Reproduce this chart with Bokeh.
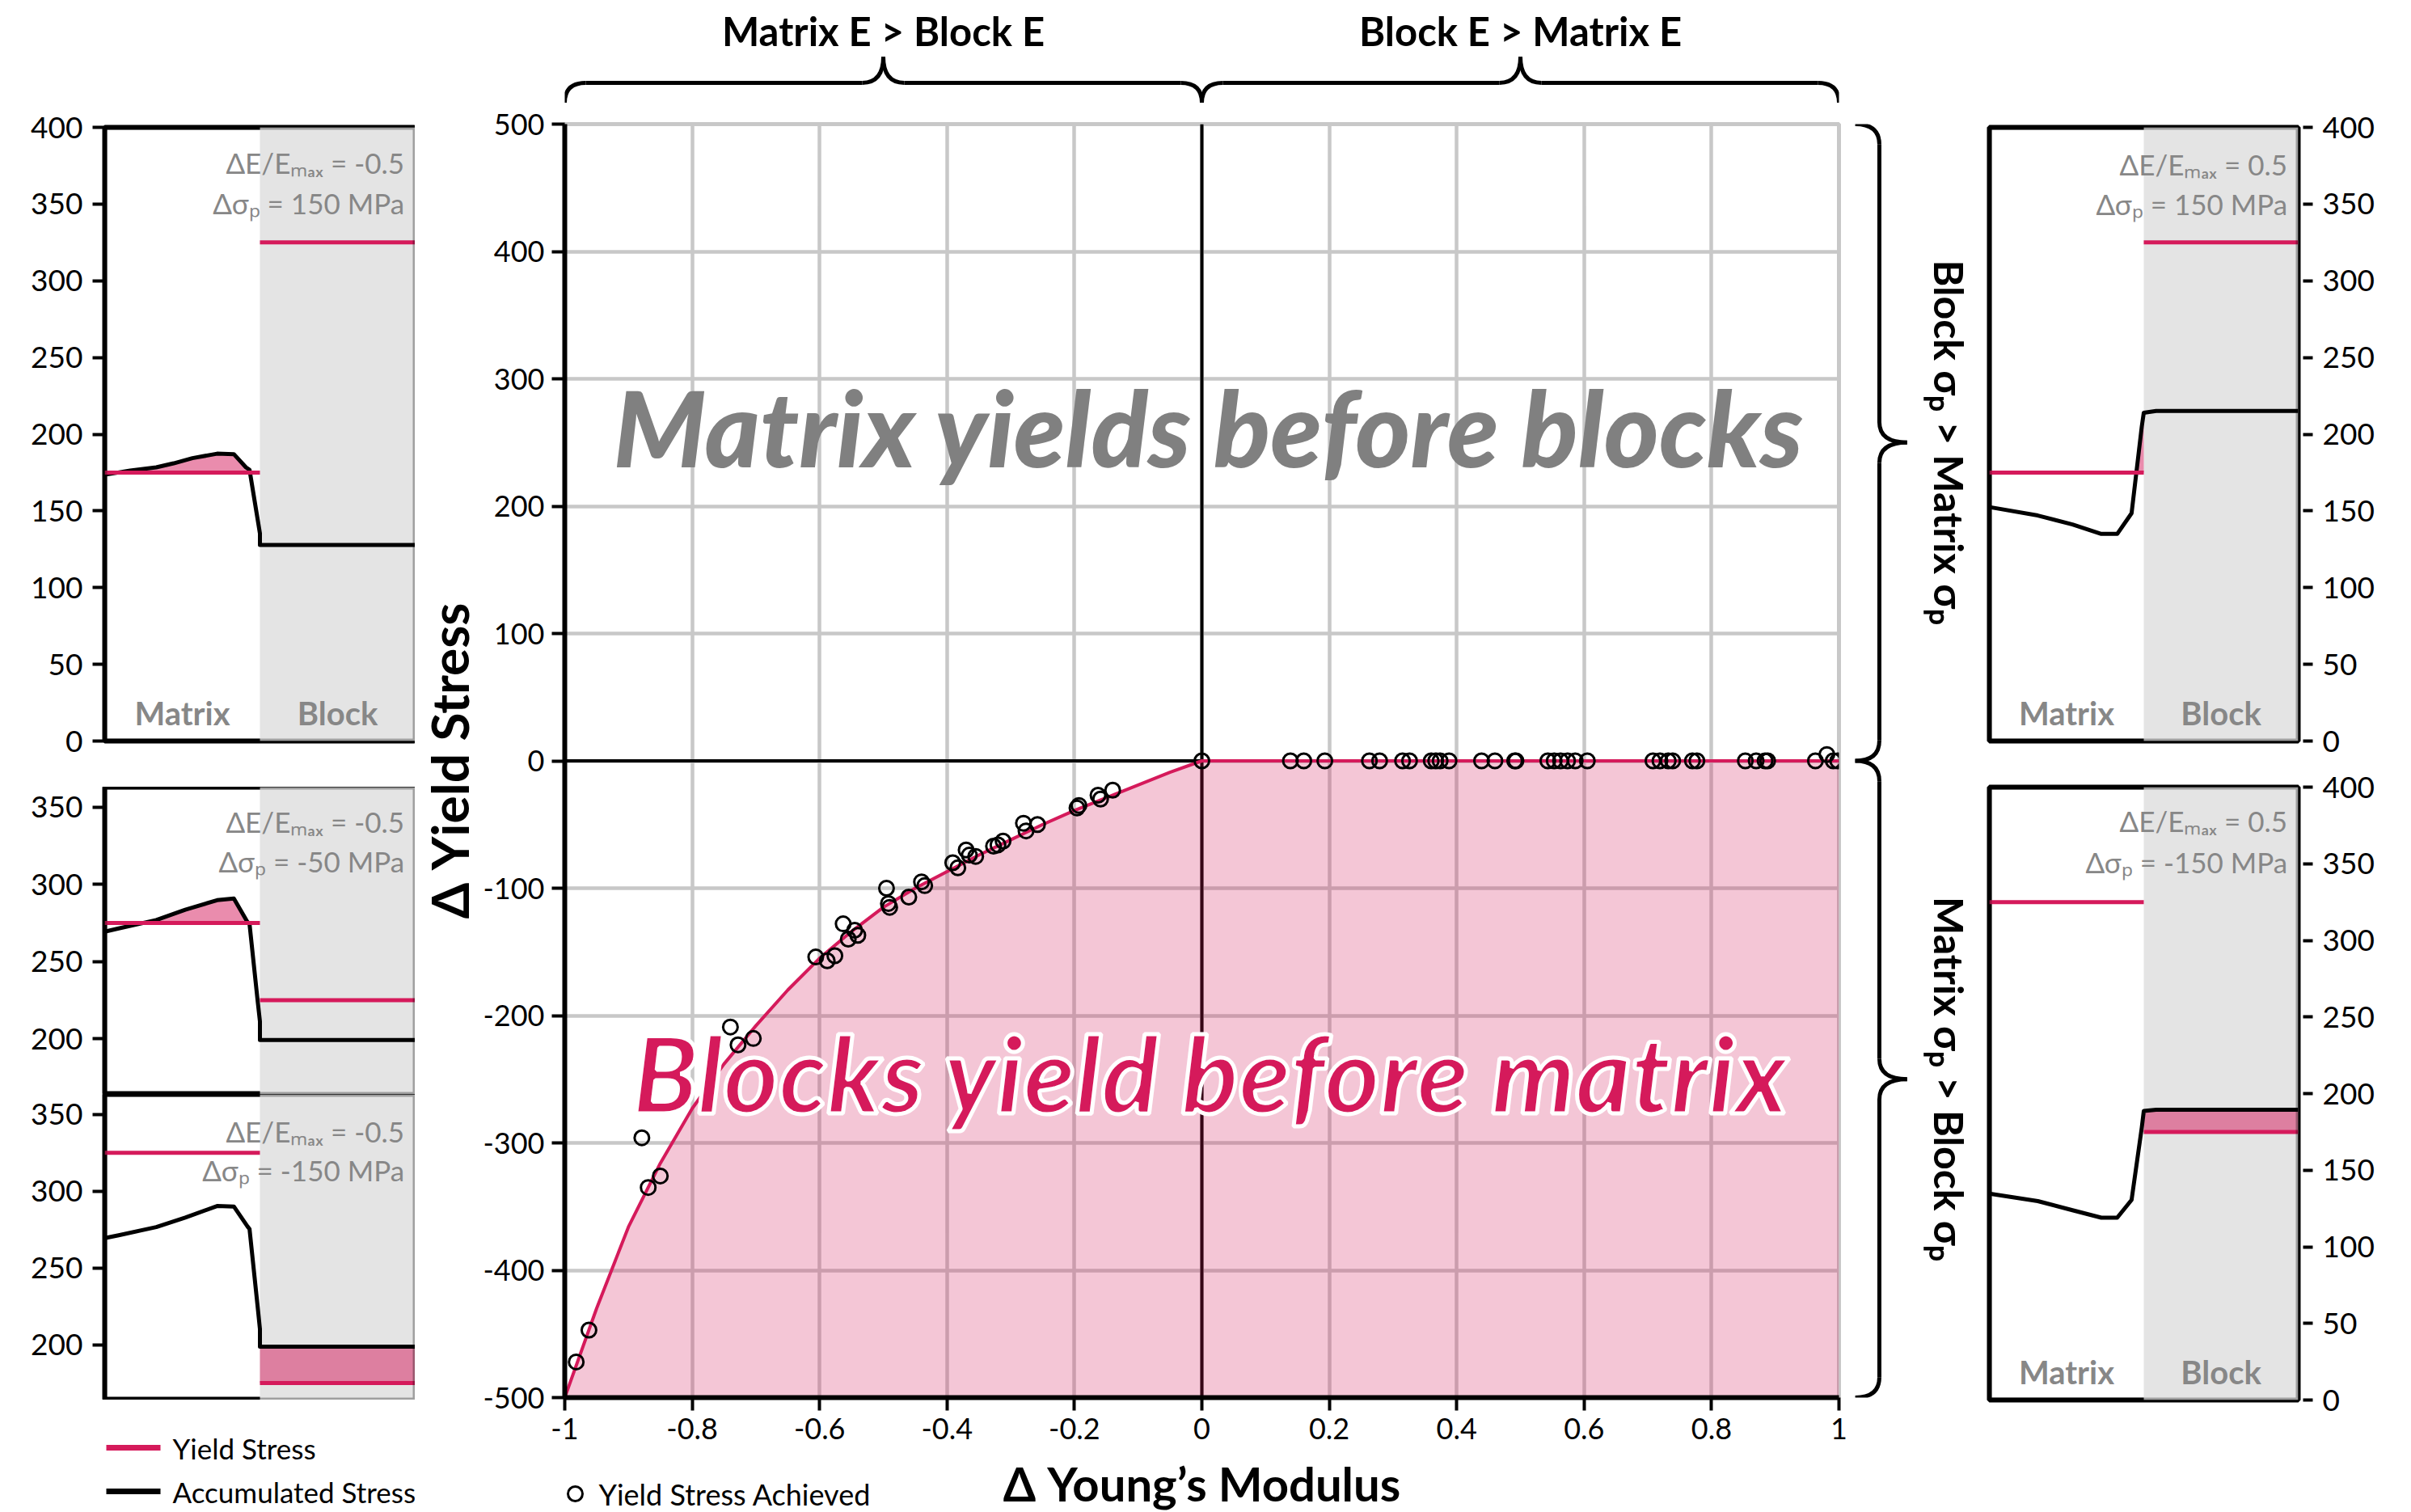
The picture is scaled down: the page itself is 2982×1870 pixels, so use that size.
import numpy as np
from bokeh.plotting import figure
from bokeh.layouts import row, column
from bokeh.models import Range1d, FixedTicker, BoxAnnotation, Span
from bokeh.core.properties import value
from bokeh.embed import file_html
from bokeh.resources import INLINE

# ---------------- data: main panel ----------------
boundary_x = [-1.0, -0.95, -0.9, -0.85, -0.8, -0.75, -0.7, -0.65, -0.6, -0.55, -0.5,
              -0.45, -0.4, -0.35, -0.3, -0.25, -0.2, -0.15, -0.1, -0.05, 0.0, 1.0]
boundary_y = [-500, -430, -366, -316, -273, -238, -208, -180, -155, -134, -115,
              -100, -87, -74, -62, -50, -39, -29, -19, -9, 0, 0]

achieved_neg_x = [-0.982, -0.962, -0.879, -0.869, -0.850, -0.740, -0.728, -0.704, -0.606, -0.588,
                  -0.576, -0.563, -0.555, -0.545, -0.540, -0.495, -0.492, -0.490, -0.460, -0.440,
                  -0.435, -0.391, -0.383, -0.370, -0.365, -0.355, -0.327, -0.320, -0.312, -0.280,
                  -0.276, -0.258, -0.196, -0.193, -0.163, -0.159, -0.140, 0.0]
achieved_neg_y = [-472, -447, -296, -335, -326, -209, -223, -218, -154, -157,
                  -153, -128, -140, -133, -137, -100, -112, -115, -107, -95,
                  -98, -80, -84, -70, -74, -75, -67, -66, -63, -49,
                  -55, -50, -37, -35, -27, -30, -23, 0]
achieved_pos_x = [0.139, 0.160, 0.193, 0.263, 0.279, 0.315, 0.326, 0.360, 0.367, 0.374,
                  0.388, 0.439, 0.460, 0.491, 0.493, 0.543, 0.553, 0.563, 0.574, 0.586,
                  0.605, 0.708, 0.719, 0.732, 0.739, 0.770, 0.777, 0.853, 0.870, 0.884,
                  0.888, 0.963, 0.981, 0.991, 0.998]
achieved_pos_y = [0, 0, 0, 0, 0, 0, 0, 0, 0, 0,
                  0, 0, 0, 0, 0, 0, 0, 0, 0, 0,
                  0, 0, 0, 0, 0, 0, 0, 0, 0, 0,
                  0, 0, 5, 0, 0]

x_ticks = [-1, -0.8, -0.6, -0.4, -0.2, 0, 0.2, 0.4, 0.6, 0.8, 1]
x_tick_labels = ["-1", "-0.8", "-0.6", "-0.4", "-0.2", "0", "0.2", "0.4", "0.6", "0.8", "1"]
y_ticks = [-500, -400, -300, -200, -100, 0, 100, 200, 300, 400, 500]
y_tick_labels = ["-500", "-400", "-300", "-200", "-100", "0", "100", "200", "300", "400", "500"]

x_title = "Δ Young’s Modulus"
y_title = "Δ Yield Stress"
upper_region = "Matrix yields before blocks"
lower_region = "Blocks yield before matrix"
top_labels = ["Matrix E > Block E", "Block E > Matrix E"]
side_labels = ["Block σₚ > Matrix σₚ", "Matrix σₚ > Block σₚ"]

# ---------------- data: small panels ----------------
region_names = ["Matrix", "Block"]
tl_acc_x = [0.0, 0.164, 0.332, 0.444, 0.565, 0.724, 0.832, 0.910, 0.933, 1.0, 1.0, 2.0]
tl_acc_y = [173.6, 176.3, 178.4, 181.0, 184.4, 187.3, 187.0, 178.4, 176.8, 135.3, 127.8, 127.8]
tl_yield = [175, 325]
tl_text = ["ΔE/Eₘₐₓ = -0.5", "Δσₚ = 150 MPa"]

ml_acc_x = [0.0, 0.09, 0.332, 0.519, 0.724, 0.832, 0.92, 0.933, 0.985, 1.0, 1.0, 2.0]
ml_acc_y = [269.4, 271.5, 276.9, 283.6, 289.8, 290.9, 275.6, 274.3, 224.7, 211.3, 199.2, 199.2]
ml_yield = [275, 225]
ml_text = ["ΔE/Eₘₐₓ = -0.5", "Δσₚ = -50 MPa"]

bl_acc_x = [0.0, 0.09, 0.332, 0.519, 0.724, 0.832, 0.92, 0.933, 0.985, 1.0, 1.0, 2.0]
bl_acc_y = [269.4, 271.3, 276.6, 282.8, 290.3, 290.0, 277.0, 275.3, 225.0, 210.2, 198.7, 198.7]
bl_yield = [325, 175]
bl_text = ["ΔE/Eₘₐₓ = -0.5", "Δσₚ = -150 MPa"]

tr_acc_x = [0.0, 0.314, 0.538, 0.725, 0.828, 0.921, 0.987, 1.0, 1.08, 2.0]
tr_acc_y = [152.5, 147.0, 141.2, 135.0, 135.0, 148.5, 205.0, 214.0, 215.2, 215.2]
tr_yield = [175, 325]
tr_text = ["ΔE/Eₘₐₓ = 0.5", "Δσₚ = 150 MPa"]

br_acc_x = [0.0, 0.314, 0.538, 0.725, 0.828, 0.921, 0.987, 1.0, 1.08, 2.0]
br_acc_y = [134.7, 129.8, 123.9, 119.0, 119.0, 130.6, 177.8, 188.6, 189.4, 189.4]
br_yield = [325, 175]
br_text = ["ΔE/Eₘₐₓ = 0.5", "Δσₚ = -150 MPa"]

full_ticks = [0, 50, 100, 150, 200, 250, 300, 350, 400]
short_ticks = [200, 250, 300, 350]
legend_labels = ["Yield Stress", "Accumulated Stress", "Yield Stress Achieved"]

# ---------------- style ----------------
CRIMSON = "#D51A5B"
GRAY_TXT = "#878787"
BIG_GRAY = "#808080"
BLOCK_GRAY = "#E4E4E4"
GRID_GRAY = "#C8C8C8"
FONT = "Lato"
HEAVY = "Lato Black, Lato"


def fill_above(xs, ys, level):
    fx, fy = [], []
    for i in range(len(xs)):
        if i > 0:
            a, b = ys[i - 1] - level, ys[i] - level
            if a * b < 0:
                t = a / (a - b)
                fx.append(xs[i - 1] + t * (xs[i] - xs[i - 1]))
                fy.append(level)
        fx.append(xs[i])
        fy.append(max(ys[i], level))
    return fx, fy


def blank(frame_w, frame_h, xr, yr, borders):
    p = figure(frame_width=frame_w, frame_height=frame_h, x_range=xr, y_range=yr,
               output_backend="svg", toolbar_location=None, x_axis_location=None, y_axis_location=None,
               min_border_left=borders[0], min_border_right=borders[1],
               min_border_top=borders[2], min_border_bottom=borders[3],
               outline_line_color=None, background_fill_color="white", border_fill_color="white")
    p.grid.visible = False
    return p


def mini_panel(acc_x, acc_y, yields, yr, ticks, frame_w, frame_h, borders, side,
               ann, ann_y, names_y=None):
    ylo, yhi = yr
    p = figure(frame_width=frame_w, frame_height=frame_h, x_range=Range1d(0, 2),
               y_range=Range1d(ylo, yhi), x_axis_location=None, y_axis_location=side,
               output_backend="svg", toolbar_location=None,
               min_border_left=borders[0], min_border_right=borders[1],
               min_border_top=borders[2], min_border_bottom=borders[3],
               outline_line_color="black", outline_line_width=6,
               background_fill_color="white", border_fill_color="white")
    p.grid.visible = False
    p.add_layout(BoxAnnotation(left=1, right=2, bottom=ylo, top=yhi, fill_color=BLOCK_GRAY,
                               fill_alpha=1.0, line_color=None, level="underlay"))
    ym, yb = yields
    k = acc_x.index(1.0)
    fx, fy = fill_above(acc_x[:k + 1], acc_y[:k + 1], ym)
    p.varea(x=fx, y1=[ym] * len(fx), y2=fy, fill_color=CRIMSON, fill_alpha=0.5)
    fx, fy = fill_above(acc_x[k:], acc_y[k:], yb)
    p.varea(x=fx, y1=[yb] * len(fx), y2=fy, fill_color=CRIMSON, fill_alpha=0.5)
    p.line(acc_x, acc_y, line_color="black", line_width=5, line_join="round")
    p.segment(x0=[0, 1], y0=[ym, yb], x1=[1, 2], y1=[ym, yb], line_color=CRIMSON, line_width=5)
    p.add_layout(BoxAnnotation(left=0, right=2, bottom=ylo, top=yhi, fill_alpha=0,
                               fill_color=None, line_color="black", line_width=6,
                               level="overlay"))
    ax = p.yaxis[0]
    ax.ticker = FixedTicker(ticks=ticks)
    ax.axis_line_color = None
    ax.minor_tick_line_color = None
    ax.major_tick_line_width = 4
    ax.major_tick_line_color = "black"
    if side == "right":
        ax.major_tick_in = -6
        ax.major_tick_out = 18
        ax.major_label_standoff = 12
    else:
        ax.major_tick_in = 0
        ax.major_tick_out = 15
        ax.major_label_standoff = 12
    ax.major_label_text_font = FONT
    ax.major_label_text_font_size = "37px"
    ax.major_label_text_color = "black"
    p.text(x=[1.93, 1.93], y=ann_y, text=ann, text_font=value(FONT),
           text_font_size="35px", text_color=GRAY_TXT, text_align="right", text_baseline="middle")
    if names_y is not None:
        p.text(x=[0.5, 1.5], y=[names_y, names_y], text=region_names, text_font=value(FONT),
               text_font_style="bold", text_font_size="40px", text_color=GRAY_TXT,
               text_align="center", text_baseline="middle")
    return p


# ---------------- left column ----------------
LW = 384
tl = mini_panel(tl_acc_x, tl_acc_y, tl_yield, (0, 400), full_ticks, LW, 759,
                (129, 0, 157, 57), "left", tl_text, [377, 350.5], names_y=18)
ml = mini_panel(ml_acc_x, ml_acc_y, ml_yield, (164, 363), short_ticks, LW, 380,
                (129, 0, 0, 0), "left", ml_text, [341, 315])
bl = mini_panel(bl_acc_x, bl_acc_y, bl_yield, (164, 363), short_ticks, LW, 378,
                (129, 0, 0, 0), "left", bl_text, [339, 314])

# legend key strip under the left column (pixel-like coordinates, frame aligned with panels)
leg_left = blank(LW, 135, Range1d(129, 513), Range1d(0, 135), (129, 0, 0, 0))
leg_left.segment(x0=[131, 131], y0=[76, 22], x1=[198, 198], y1=[76, 22],
                 line_color=[CRIMSON, "black"], line_width=7)
leg_left.text(x=[213, 213], y=[76, 22], text=legend_labels[:2], text_font=value(FONT),
              text_font_size="35px", text_color="black", text_align="left", text_baseline="middle")
left_col = column(tl, ml, bl, leg_left, spacing=0)

# ---------------- main panel ----------------
main = figure(frame_width=1576, frame_height=1575, x_range=Range1d(-1, 1), y_range=Range1d(-500, 500),
              output_backend="svg", toolbar_location=None,
              min_border_left=185, min_border_right=12, min_border_top=25, min_border_bottom=70,
              outline_line_color=GRID_GRAY, outline_line_width=5,
              background_fill_color="white", border_fill_color="white")
main.xaxis.ticker = FixedTicker(ticks=x_ticks)
main.xaxis.major_label_overrides = dict(zip(x_ticks, x_tick_labels))
main.yaxis.ticker = FixedTicker(ticks=y_ticks)
main.yaxis.major_label_overrides = dict(zip(y_ticks, y_tick_labels))
main.yaxis.axis_label = y_title
for ax in (main.xaxis[0], main.yaxis[0]):
    ax.axis_line_width = 6
    ax.axis_line_color = "black"
    ax.major_tick_line_width = 4
    ax.major_tick_line_color = "black"
    ax.major_tick_out = 16
    ax.major_tick_in = 0
    ax.minor_tick_line_color = None
    ax.major_label_text_font = FONT
    ax.major_label_text_font_size = "36px"
    ax.major_label_text_color = "black"
    ax.major_label_standoff = 9
    ax.axis_label_text_font = FONT
    ax.axis_label_text_font_size = "64px"
    ax.axis_label_text_font_style = "bold"
    ax.axis_label_text_color = "black"
    ax.axis_label_standoff = 0
main.xgrid.ticker = FixedTicker(ticks=x_ticks)
main.ygrid.ticker = FixedTicker(ticks=y_ticks)
main.grid.grid_line_color = GRID_GRAY
main.grid.grid_line_width = 4.5
main.add_layout(Span(location=0, dimension="width", line_color="black", line_width=4, level="underlay"))
main.add_layout(Span(location=0, dimension="height", line_color="black", line_width=4, level="underlay"))
main.varea(x=boundary_x, y1=[-500] * len(boundary_x), y2=boundary_y, fill_color=CRIMSON, fill_alpha=0.25)
main.line(boundary_x, boundary_y, line_color=CRIMSON, line_width=4)
main.scatter(achieved_neg_x + achieved_pos_x, achieved_neg_y + achieved_pos_y, marker="circle",
             size=18, line_color="black", line_width=3, fill_alpha=0)
main.text(x=[0.012], y=[262], text=[upper_region], text_font=value(HEAVY), text_font_style="bold italic",
          text_font_size="130px", text_color=BIG_GRAY, text_align="center", text_baseline="middle")
main.text(x=[0.015], y=[-245], text=[lower_region], text_font=value(HEAVY), text_font_style="bold italic",
          text_font_size="131px", text_color=CRIMSON, text_outline_color="white",
          text_align="center", text_baseline="middle")

# strip under main: x title + legend key (shares x range with main)
bottom = blank(1576, 71, main.x_range, Range1d(0, 71), (185, 12, 0, 0))
bottom.text(x=[0.0], y=[35.5], text=[x_title], text_font=value(FONT), text_font_style="bold",
            text_font_size="58px", text_color="black", text_align="center", text_baseline="middle")
bottom.scatter(x=[-0.9835], y=[22], marker="circle", size=18, line_color="black", line_width=3, fill_alpha=0)
bottom.text(x=[-0.9467], y=[22], text=[legend_labels[2]], text_font=value(FONT),
            text_font_size="36px", text_color="black", text_align="left", text_baseline="middle")

# ---------------- top strip with braces ----------------
top = blank(1576, 128, main.x_range, Range1d(0, 1), (185, 12, 0, 0))


def brace_parts(a, b, end, mid, tip, r):
    m = (a + b) / 2.0
    quads = [(a, end, a + r, mid, a, mid), (m - r, mid, m, tip, m, mid),
             (m + r, mid, m, tip, m, mid), (b, end, b - r, mid, b, mid)]
    segs = [(a + r, mid, m - r, mid), (m + r, mid, b - r, mid)]
    return quads, segs


for a, b in [(x_ticks[0], x_ticks[5]), (x_ticks[5], x_ticks[-1])]:
    quads, segs = brace_parts(a, b, 0.012, 0.204, 0.455, 0.033)
    top.quadratic(x0=[q[0] for q in quads], y0=[q[1] for q in quads], x1=[q[2] for q in quads],
                  y1=[q[3] for q in quads], cx=[q[4] for q in quads], cy=[q[5] for q in quads],
                  line_color="black", line_width=5)
    top.segment(x0=[s[0] for s in segs], y0=[s[1] for s in segs], x1=[s[2] for s in segs],
                y1=[s[3] for s in segs], line_color="black", line_width=5)
top.text(x=[-0.5, 0.5], y=[0.71, 0.71], text=top_labels, text_font=value(FONT), text_font_style="bold",
         text_font_size="49px", text_color="black", text_align="center", text_baseline="middle")

mid_col = column(top, main, bottom, spacing=0)

# ---------------- right strip with braces ----------------
side = blank(168, 1575, Range1d(0, 1), main.y_range, (0, 0, 153, 141))
for a, b in [(y_ticks[-1], y_ticks[5]), (y_ticks[5], y_ticks[0])]:
    quads, segs = brace_parts(a, b, 0.048, 0.226, 0.43, -16 if a > b else 16)
    side.quadratic(x0=[q[1] for q in quads], y0=[q[0] for q in quads], x1=[q[3] for q in quads],
                   y1=[q[2] for q in quads], cx=[q[5] for q in quads], cy=[q[4] for q in quads],
                   line_color="black", line_width=5)
    side.segment(x0=[s[1] for s in segs], y0=[s[0] for s in segs], x1=[s[3] for s in segs],
                 y1=[s[2] for s in segs], line_color="black", line_width=5)
side.text(x=[0.74, 0.74], y=[250, -250], text=side_labels, angle=-np.pi / 2, text_font=value(FONT),
          text_font_style="bold", text_font_size="50px", text_color="black",
          text_align="center", text_baseline="middle")

# ---------------- right column ----------------
RW = 382
tr = mini_panel(tr_acc_x, tr_acc_y, tr_yield, (0, 400), full_ticks, RW, 759,
                (6, 100, 157, 32), "right", tr_text, [376, 350], names_y=18)
br = mini_panel(br_acc_x, br_acc_y, br_yield, (0, 400), full_ticks, RW, 758,
                (6, 100, 25, 26), "right", br_text, [378, 351], names_y=18)
right_col = column(tr, br, spacing=0)

layout = row(left_col, mid_col, side, right_col, spacing=0)
open("out.html", "w").write(file_html(layout, INLINE))
